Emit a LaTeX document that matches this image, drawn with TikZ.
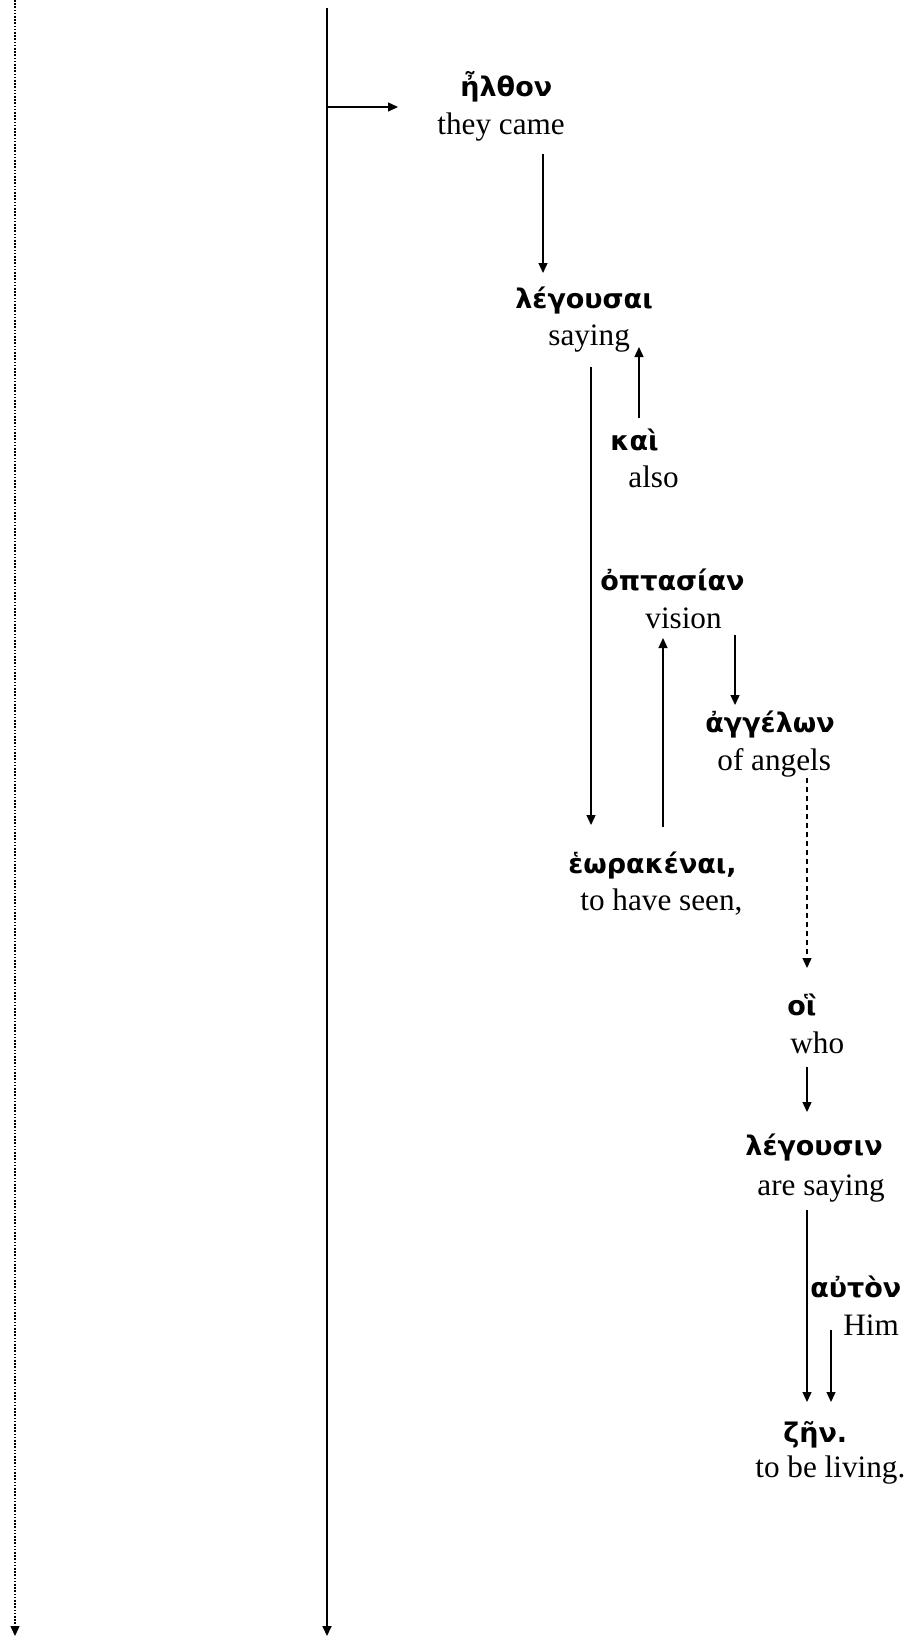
\documentclass[tikz,border=0pt]{standalone}
\usepackage{fontspec}
\setmainfont{Liberation Serif}
\newfontfamily\grk{DejaVu Sans}
\usetikzlibrary{arrows.meta,positioning,calc}
\tikzset{
gk/.style={anchor=base west,inner sep=0pt,font=\grk\bfseries\fontsize{13.5}{15}\selectfont},
en/.style={anchor=base west,inner sep=0pt,font=\fontsize{15.6}{18}\selectfont},
lien/.style={-{Triangle[length=5pt,width=4.5pt]},line width=0.65pt},
pointille/.style={lien,dash pattern=on 0.8pt off 0.8pt},
tirets/.style={lien,dash pattern=on 2.5pt off 2pt}
}

\begin{document}
\begin{tikzpicture}[x=0.5pt,y=-0.5pt]
\useasboundingbox (0,0) rectangle (916,1637);
%%% lignes principales
\coordinate (dot0) at (15,0);
\coordinate (dot1) at (15,1636);
\coordinate (main0) at (327,8);
\coordinate (main1) at (327,1636);
\draw[pointille] (dot0) -- (dot1);
\draw[lien,line width=0.85pt] (main0) -- (main1);
%%% mots
\node[gk] (elthon)      at (460,97)   {ἦλθον};
\node[en] (elthonE)     at (437,135)  {they came};
\node[gk] (legousai)    at (515,308)  {λέγουσαι};
\node[en] (legousaiE)   at (548,345)  {saying};
\node[gk] (kai)         at (610,450)  {καὶ};
\node[en] (kaiE)        at (628,487)  {also};
\node[gk] (optasian)    at (600,590)  {ὀπτασίαν};
\node[en] (optasianE)   at (645,628)  {vision};
\node[gk] (aggelon)     at (705,732)  {ἀγγέλων};
\node[en] (aggelonE)    at (717,770)  {of angels};
\node[gk] (heorakenai)  at (568,873)  {ἑωρακέναι,};
\node[en] (heorakenaiE) at (580,910)  {to have seen,};
\node[gk] (hoi)         at (787,1015) {οἳ};
\node[en] (hoiE)        at (790,1053) {who};
\node[gk] (legousin)    at (745,1155) {λέγουσιν};
\node[en] (legousinE)   at (757,1195) {are saying};
\node[gk] (auton)       at (810,1297) {αὐτὸν};
\node[en] (autonE)      at (843,1335) {Him};
\node[gk] (zen)         at (783,1442) {ζῆν.};
\node[en] (zenE)        at (755,1477) {to be living.};
%%% liens
\draw[lien] ([shift={(0,99)}]main0) -- ([shift={(-62,10)}]elthon.base west);
\draw[lien] ([shift={(106,19)}]elthonE.base west) -- ([shift={(28,-35)}]legousai.base west);
\draw[lien] ([shift={(29,-32)}]kai.base west) -- ([shift={(91,2)}]legousaiE.base west);
\draw[lien] ([shift={(43,22)}]legousaiE.base west) -- ([shift={(23,-48)}]heorakenai.base west);
\draw[lien] ([shift={(95,-46)}]heorakenai.base west) -- ([shift={(18,10)}]optasianE.base west);
\draw[lien] ([shift={(90,7)}]optasianE.base west) -- ([shift={(30,-27)}]aggelon.base west);
\draw[tirets] ([shift={(90,8)}]aggelonE.base west) -- ([shift={(20,-47)}]hoi.base west);
\draw[lien] ([shift={(17,14)}]hoiE.base west) -- ([shift={(62,-43)}]legousin.base west);
\draw[lien] ([shift={(50,15)}]legousinE.base west) -- ([shift={(24,-40)}]zen.base west);
\draw[lien] ([shift={(-12,-5)}]autonE.base west) -- ([shift={(48,-40)}]zen.base west);
\end{tikzpicture}
\end{document}
